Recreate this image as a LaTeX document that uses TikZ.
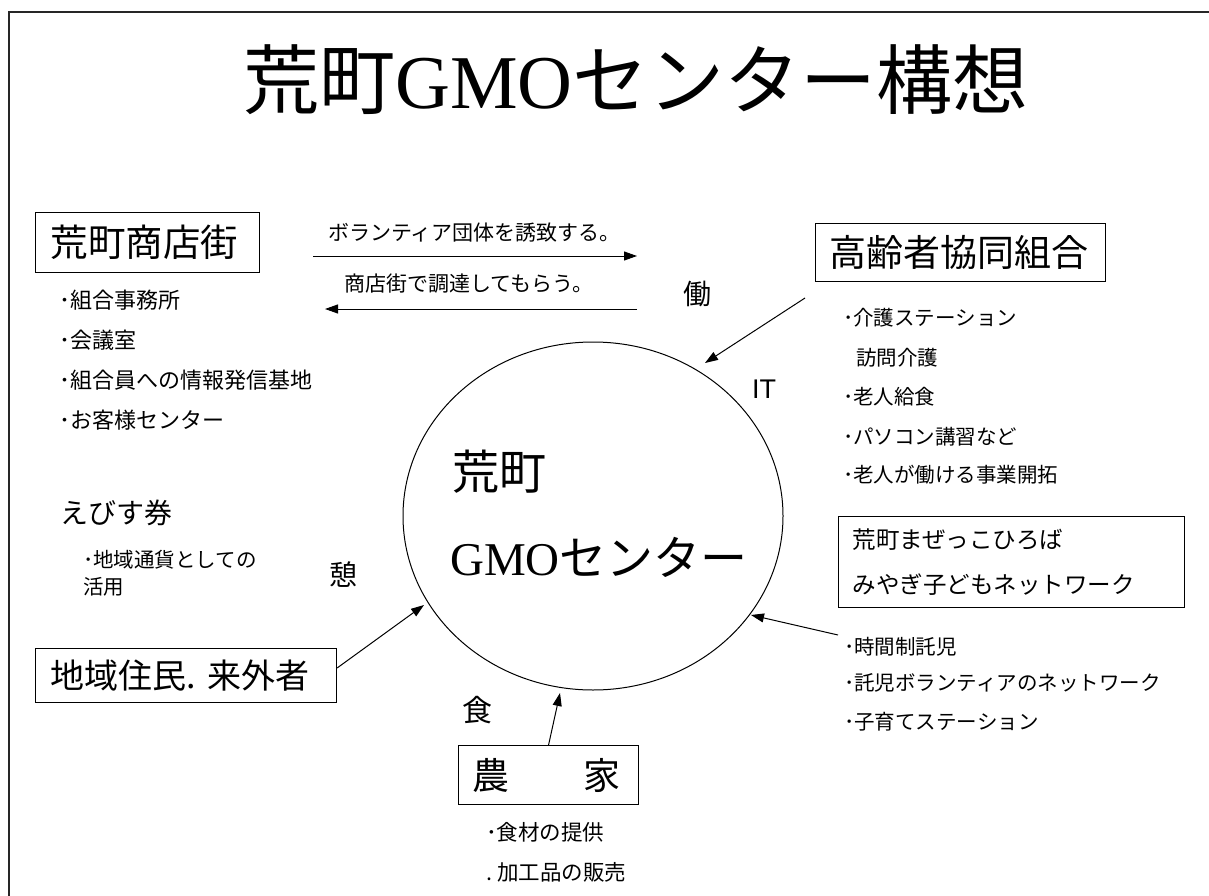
\documentclass[tikz,border=0pt]{standalone}
\usepackage{fontspec}
\setmainfont{Noto Sans CJK JP}
\newfontfamily\gmoserif{Liberation Serif}
\newfontfamily\itsans{Liberation Sans}
\usetikzlibrary{arrows.meta,shapes.geometric}
\newcommand\fsz[1]{\fontsize{#1pt}{#1pt}\selectfont}
\begin{document}
\begin{tikzpicture}[x=1pt,y=-1pt,
  txt/.style={inner sep=0pt, anchor=west},
  lbl/.style={inner sep=0pt},
  boxed/.style={draw, line width=1.1pt, align=left, inner ysep=3pt, anchor=north west},
  arr/.style={line width=1pt, -{Triangle[length=13pt,width=9pt]}},
  frame/.style={line width=2.2pt, draw=black!85}]
\useasboundingbox (0,0) rectangle (1209,896);
\draw[frame] (9,896) -- (9,12) -- (1209,12);

% title
\node[lbl, font=\fsz{76}] (title) at (636,80) {荒町{\gmoserif GMO}センター構想};

% centre
\node[draw, ellipse, line width=1pt, minimum width=380pt, minimum height=348pt, inner sep=0pt] (ctr) at (593,516) {};
\node[txt, font=\fsz{47}] (ct1) at (452,472) {荒町};
\node[txt, font=\fsz{47}] (ct2) at (450,557) {{\gmoserif GMO}センター};

% boxes
\node[boxed, text width=194pt, inner xsep=15pt, minimum height=60pt, font=\fsz{37.5}] (shop) at (35,212) {荒町商店街};
\node[boxed, text width=262pt, inner xsep=14pt, minimum height=58pt, font=\fsz{37}] (elder) at (815,223) {高齢者協同組合};
\node[boxed, text width=271pt, inner xsep=15pt, minimum height=54pt, font=\fsz{34}] (resident) at (35,648) {地域住民.\ 来外者};
\node[boxed, text width=152pt, inner xsep=14pt, minimum height=59pt, font=\fsz{37}] (farm) at (458,745) {農　　家};
\node[boxed, text width=318pt, inner xsep=14pt, minimum height=91pt, font=\fontsize{23.5pt}{45pt}\selectfont] (kids) at (838,516) {荒町まぜっこひろば\\みやぎ子どもネットワーク};

% arrow labels
\node[txt, font=\fsz{21}] (l1) at (328,233) {ボランティア団体を誘致する。};
\node[txt, font=\fsz{21}] (l2) at (344,284) {商店街で調達してもらう。};

% shop list
\node[txt, font=\fsz{22}] (b1) at (59,300) {･組合事務所};
\node[txt, font=\fsz{22}] (b2) at (59,340) {･会議室};
\node[txt, font=\fsz{22}] (b3) at (59,380) {･組合員への情報発信基地};
\node[txt, font=\fsz{22}] (b4) at (59,420) {･お客様センター};

% ebisu
\node[txt, font=\fsz{28}] (ebisu) at (60,513) {えびす券};
\node[txt, font=\fsz{20.5}] (e1) at (83,560) {･地域通貨としての};
\node[txt, font=\fsz{20.5}] (e2) at (83,587) {活用};

% keywords
\node[lbl, font=\fsz{28}] (kw1) at (697,294) {働};
\node[lbl, font=\itsans\fontsize{27pt}{27pt}\selectfont] (kw2) at (764,389) {IT};
\node[lbl, font=\fsz{28}] (kw3) at (343,575) {憩};
\node[lbl, font=\fsz{30}] (kw4) at (477,710) {食};

% elder list
\node[txt, font=\fsz{20.5}] (r1) at (843,318) {･介護ステーション};
\node[txt, font=\fsz{20.5}] (r2) at (856,358) {訪問介護};
\node[txt, font=\fsz{20.5}] (r3) at (843,397) {･老人給食};
\node[txt, font=\fsz{20.5}] (r4) at (843,437) {･パソコン講習など};
\node[txt, font=\fsz{20.5}] (r5) at (843,475) {･老人が働ける事業開拓};

% kids list
\node[txt, font=\fsz{20.5}] (m1) at (844,647) {･時間制託児};
\node[txt, font=\fsz{20.5}] (m2) at (844,683) {･託児ボランティアのネットワーク};
\node[txt, font=\fsz{20.5}] (m3) at (844,722) {･子育てステーション};

% farm list
\node[txt, font=\fsz{21.5}] (n1) at (486,832) {･食材の提供};
\node[txt, font=\fsz{21.5}] (n2) at (486,872) {.\ 加工品の販売};

% connectors
\coordinate (a1s) at (313,256);
\coordinate (a1e) at (637,256);
\coordinate (a2s) at (637,309);
\coordinate (a2e) at (325,309);
\coordinate (kS) at (805,298);
\coordinate (kE) at (705,363);
\coordinate (rE) at (424,605);
\coordinate (fE) at (560,693);
\coordinate (mS) at (838,635);
\coordinate (mE) at (751,615);
\draw[arr] (a1s) -- (a1e);
\draw[arr] (a2s) -- (a2e);
\draw[arr] (kS) -- (kE);
\draw[arr] ([yshift=-20pt]resident.north east) -- (rE);
\draw[arr] (farm.north) -- (fE);
\draw[arr] (mS) -- (mE);
\end{tikzpicture}
\end{document}
